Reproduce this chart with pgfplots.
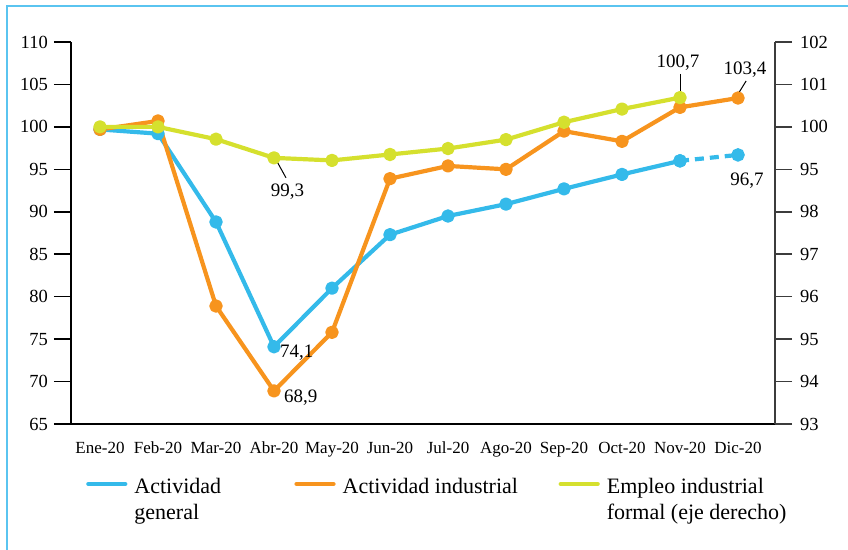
\documentclass[border=0pt]{standalone}
\usepackage{fontspec}
\setmainfont{Liberation Serif}
\usepackage{pgfplots}
\pgfplotsset{compat=1.18}
\definecolor{cblue}{RGB}{52,186,234}
\definecolor{corange}{RGB}{247,148,30}
\definecolor{cgreen}{RGB}{213,224,46}
\definecolor{cframe}{RGB}{90,196,240}
\definecolor{axgray}{RGB}{60,60,60}
\begin{document}
\begin{tikzpicture}[x=1pt,y=1pt]
\useasboundingbox (0,0) rectangle (848,549);
\draw[cframe, line width=1.5pt] (7,-10) -- (7,543) -- (860,543);
\pgfplotsset{
 common/.style={
  scale only axis, width=704pt, height=382pt,
  at={(71pt,125pt)}, anchor=south west,
  xmin=-0.5, xmax=11.638,
  xtick={0,...,11},
  /pgf/number format/assume math mode=true,
  tick align=outside, major tick length=17pt,
  every tick/.style={line width=1.5pt},
  clip=false,
 }}
\begin{axis}[common,
  axis x line*=bottom, axis y line*=left,
  axis line style={line width=1.6pt, black},
  ymin=65, ymax=110, ytick={65,70,...,110},
  xticklabels={Ene-20,Feb-20,Mar-20,Abr-20,May-20,Jun-20,Jul-20,Ago-20,Sep-20,Oct-20,Nov-20,Dic-20},
  major x tick style={draw=none},
  xticklabel style={font=\fontsize{17}{18}\selectfont, anchor=base, yshift=-12pt, inner sep=0pt},
  yticklabel style={font=\fontsize{18.5}{20}\selectfont, anchor=east, inner sep=0pt, xshift=-6pt},
]
\addplot[cblue, line width=4.2pt, line join=round, mark=*, mark size=4.6pt] coordinates {(0,99.7)(1,99.2)(2,88.8)(3,74.1)(4,81.0)(5,87.3)(6,89.5)(7,90.9)(8,92.7)(9,94.4)(10,96.0)};
\addplot[cblue, line width=4.2pt, dash pattern=on 9pt off 6pt, mark=*, mark size=4.6pt, mark options={solid}] coordinates {(10,96.0)(11,96.7)};
\addplot[corange, line width=4.2pt, line join=round, mark=*, mark size=4.6pt] coordinates {(0,99.7)(1,100.7)(2,78.9)(3,68.9)(4,75.8)(5,93.9)(6,95.4)(7,95.0)(8,99.5)(9,98.3)(10,102.3)(11,103.4)};
\node[anchor=base west, inner sep=0pt, font=\fontsize{19}{20}\selectfont] at (axis cs:3.103,72.78) {74,1};
\node[anchor=base west, inner sep=0pt, font=\fontsize{19}{20}\selectfont] at (axis cs:3.172,67.59) {68,9};
\node[anchor=base, inner sep=0pt, font=\fontsize{19}{20}\selectfont] at (axis cs:11.12,106.23) {103,4};
\draw[line width=1pt] (axis cs:10.98,103.64) -- (axis cs:11.14,105.41);
\node[anchor=base, inner sep=0pt, font=\fontsize{19}{20}\selectfont] at (axis cs:11.155,93.15) {96,7};
\end{axis}
\begin{axis}[common,
  hide x axis, axis y line*=right,
  axis line style={line width=1.6pt, axgray},
  every tick/.append style={axgray},
  ymin=93, ymax=102, ytick={93,...,102},
  yticklabels={93,94,95,96,97,98,95,100,101,102},
  yticklabel style={font=\fontsize{18.5}{20}\selectfont, anchor=west, inner sep=0pt, xshift=8pt},
  legend columns=3,
  legend style={at={(0.0185,-0.1245)}, anchor=north west, draw=none, fill=none, inner sep=0pt,
    nodes={inner sep=0pt, font=\fontsize{22}{26}\selectfont},
    /tikz/every even column/.append style={column sep=0pt}},
  legend cell align=left,
  legend image code/.code={\path (0pt,12.6pt); \draw[#1, mark=none, line cap=round] (2pt,2.5pt) -- (39pt,2.5pt);},
]
\addlegendimage{cblue, line width=4.2pt}
\addlegendentry{\hspace{7pt}\parbox[t]{158pt}{Actividad\\general}}
\addlegendimage{corange, line width=4.2pt}
\addlegendentry{\hspace{7pt}\parbox[t]{214pt}{Actividad industrial}}
\addplot[cgreen, line width=4.2pt, line join=round, mark=*, mark size=4.6pt] coordinates {(0,100.0)(1,100.0)(2,99.71)(3,99.27)(4,99.21)(5,99.35)(6,99.49)(7,99.70)(8,100.11)(9,100.42)(10,100.69)};
\addlegendentry{\hspace{7pt}\parbox[t]{200pt}{Empleo industrial\\formal (eje derecho)}}
\draw[line width=1pt] (axis cs:3.017,99.27) -- (axis cs:3.207,98.80);
\node[anchor=base, inner sep=0pt, font=\fontsize{19}{20}\selectfont] at (axis cs:3.233,98.35) {99,3};
\draw[line width=1pt] (axis cs:10,101.25) -- (axis cs:10,100.73);
\node[anchor=base, inner sep=0pt, font=\fontsize{19}{20}\selectfont] at (axis cs:9.966,101.39) {100,7};
\end{axis}
\end{tikzpicture}
\end{document}
